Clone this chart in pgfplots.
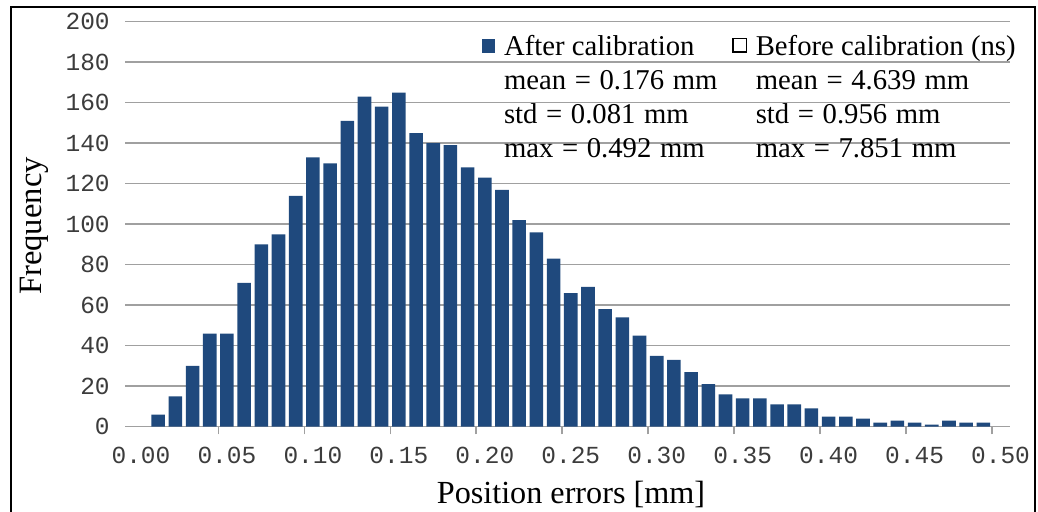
\documentclass[border=0pt]{standalone}
\usepackage{fontspec}
\setmainfont{Liberation Serif}
\newfontfamily\monofont{Liberation Mono}
\usepackage{pgfplots}
\pgfplotsset{compat=1.18}
\definecolor{barblue}{RGB}{31,73,125}
\definecolor{gridgray}{RGB}{160,160,160}
\definecolor{ticktext}{RGB}{60,60,60}
\newcommand\sep{\hspace{4.3pt}}
\begin{document}
\begin{tikzpicture}
\useasboundingbox (0pt,0pt) rectangle (519pt,256pt);
\draw[line width=1pt] (5.5pt,-5pt) rectangle (517.5pt,252.25pt);
\begin{axis}[
  at={(62.65pt,42.65pt)}, anchor=south west,
  scale only axis, width=442.35pt, height=202.5pt,
  xmin=-0.913, xmax=50.55, ymin=0, ymax=200,
  axis line style={draw=none},
  ymajorgrids, grid style={gridgray, line width=0.75pt},
  ytick={0,20,...,200},
  xtick={0,5,...,50},
  xticklabels={0.00,0.05,0.10,0.15,0.20,0.25,0.30,0.35,0.40,0.45,0.50},
  minor xtick={4.5,9.5,14.5,19.5,24.5,29.5,34.5,39.5,44.5,49.5},
  major tick length=0pt, minor tick length=3.9pt,
  minor tick style={gridgray, line width=0.75pt},
  tick align=outside, tick pos=left,
  /pgf/number format/assume math mode=true,
  tick label style={font=\monofont\fontsize{12.25pt}{14pt}\selectfont, text=ticktext},
  xticklabel style={inner sep=0pt, anchor=north, yshift=-10pt},
  yticklabel style={inner sep=0pt, anchor=east, xshift=-7.6pt},
  xlabel={Position errors [mm]},
  xlabel style={at={(axis description cs:0.5038,0)}, anchor=base, yshift=-38.2pt, inner sep=0pt, font=\fontsize{16.1pt}{18pt}\selectfont},
  ylabel={Frequency},
  ylabel style={at={(axis description cs:0,0.4956)}, anchor=base, yshift=41.65pt, inner sep=0pt, font=\fontsize{16.3pt}{18pt}\selectfont},
  legend columns=2,
  legend cell align=left,
  legend style={at={(0.4028,0.9665)}, anchor=north west, draw=none, fill=none,
    inner sep=0pt, outer sep=0pt,
    font=\fontsize{14.35pt}{16.67pt}\selectfont,
    row sep=3pt, column sep=4.5pt,
    nodes={inner sep=0pt, text height=10.33pt, text depth=3.59pt, anchor=west},
    /tikz/every even column/.append style={column sep=7.5pt}},
]
\addplot[ybar, bar width=0.79, fill=barblue, draw=none,
  legend image code/.code={\fill[barblue] (0pt,-1.75pt) rectangle (6.7pt,4.95pt);}]
coordinates {
(1,6) (2,15) (3,30) (4,46) (5,46) (6,71) (7,90) (8,95) (9,114) (10,133)
(11,130) (12,151) (13,163) (14,158) (15,165) (16,145) (17,140) (18,139) (19,128) (20,123)
(21,117) (22,102) (23,96) (24,83) (25,66) (26,69) (27,58) (28,54) (29,45) (30,35)
(31,33) (32,27) (33,21) (34,16) (35,14) (36,14) (37,11) (38,11) (39,9) (40,5)
(41,5) (42,4) (43,2) (44,3) (45,2) (46,1) (47,3) (48,2) (49,2)
};
\addlegendentry{After calibration}
\addlegendimage{legend image code/.code={\draw[black, line width=0.6pt, fill=white] (0.3pt,-1.45pt) rectangle (6.9pt,5.15pt);}}
\addlegendentry{Before calibration (ns)}
\addlegendimage{empty legend}\addlegendentry{mean\sep=\sep0.176\sep mm}
\addlegendimage{empty legend}\addlegendentry{mean\sep=\sep4.639\sep mm}
\addlegendimage{empty legend}\addlegendentry{std\sep=\sep0.081\sep mm}
\addlegendimage{empty legend}\addlegendentry{std\sep=\sep0.956\sep mm}
\addlegendimage{empty legend}\addlegendentry{max\sep=\sep0.492\sep mm}
\addlegendimage{empty legend}\addlegendentry{max\sep=\sep7.851\sep mm}
\end{axis}
\end{tikzpicture}
\end{document}
